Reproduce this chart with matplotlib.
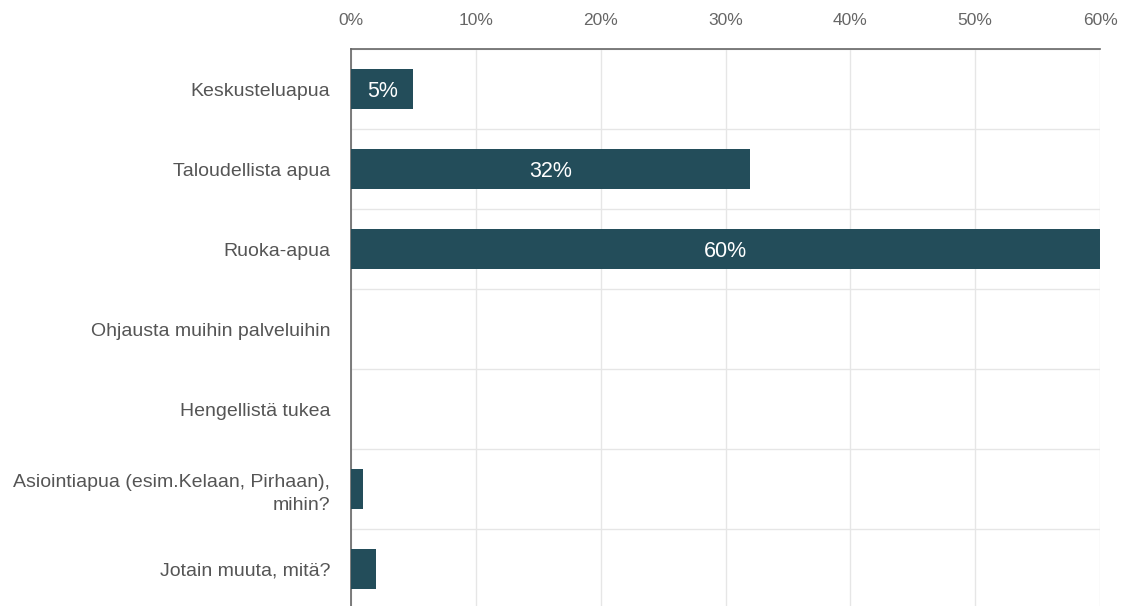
import matplotlib
matplotlib.use("Agg")
import matplotlib.pyplot as plt
import numpy as np

# ------------------- DATA ------------------- #
categories = [
    "Keskusteluapua",
    "Taloudellista apua",
    "Ruoka-apua",
    "Ohjausta muihin palveluihin",
    "Hengellistä tukea",
    "Asiointiapua (esim.Kelaan, Pirhaan),\nmihin?",
    "Jotain muuta, mitä?",
]
values = [5, 32, 60, 0, 0, 1, 2]
label_values = [5, 32, 60]  # only the bigger bars carry a label
ticks = [0, 10, 20, 30, 40, 50, 60]
tick_labels = ["0%", "10%", "20%", "30%", "40%", "50%", "60%"]

bar_color = "#234d5a"
grid_color = "#e6e6e6"

plt.rcParams["font.family"] = ["Liberation Sans", "DejaVu Sans"]

fig = plt.figure(figsize=(11.29, 6.06), dpi=100)
ax = fig.add_axes([351 / 1129, 1 - 609 / 606, (1100 - 351) / 1129, 560 / 606])

y = np.arange(len(categories))
ax.barh(y, values, height=0.5, color=bar_color, zorder=3)

for i, v in enumerate(values):
    if v in label_values and v >= 5:
        ax.text(v / 2, i, f"{v}%", ha="center", va="center_baseline",
                color="white", fontsize=15.5, zorder=4)

ax.set_xlim(0, 60)
ax.set_ylim(len(categories) - 0.5, -0.5)
ax.set_yticks(y)
ax.set_yticklabels(categories, fontsize=14, color="#555555", ha="right",
                   linespacing=1.5)
ax.set_xticks(ticks)
ax.set_xticklabels(tick_labels, fontsize=12.5, color="#666666")
ax.xaxis.tick_top()
ax.tick_params(axis="x", length=0, pad=15)
ax.tick_params(axis="y", length=0, pad=15)

# horizontal separators between rows
ax.set_yticks(np.arange(-0.5, len(categories), 1), minor=True)
ax.tick_params(axis="y", which="minor", length=0)
ax.grid(axis="y", which="minor", color=grid_color, linewidth=1, zorder=0)
ax.grid(axis="x", which="major", color=grid_color, linewidth=1, zorder=0)

for side in ["right", "bottom"]:
    ax.spines[side].set_visible(False)
ax.spines["left"].set_color("#666666")
ax.spines["left"].set_linewidth(1.2)
ax.spines["top"].set_color("#666666")
ax.spines["top"].set_linewidth(1.2)

fig.savefig("out.png", dpi=100)
